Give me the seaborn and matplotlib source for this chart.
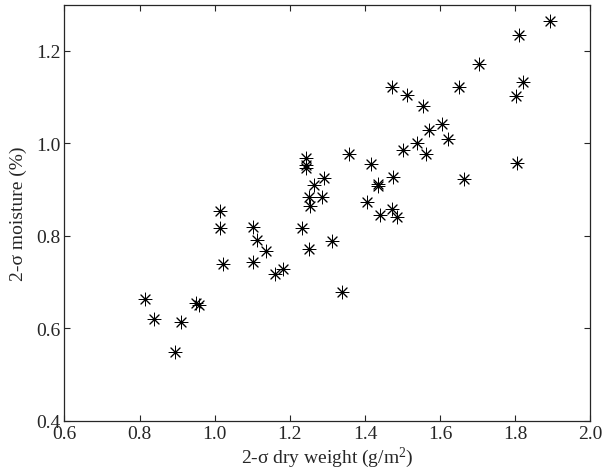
import numpy as np
import pandas as pd
import matplotlib
matplotlib.use("Agg")
import matplotlib.pyplot as plt
import seaborn as sns

# 2-sigma values
dry_weight = [0.814, 0.839, 0.894, 0.909, 0.950, 0.959, 1.013, 1.015, 1.021,
              1.101, 1.101, 1.112, 1.137, 1.159, 1.181, 1.233, 1.242, 1.242,
              1.242, 1.251, 1.251, 1.254, 1.263, 1.286, 1.291, 1.313, 1.338,
              1.357, 1.405, 1.417, 1.434, 1.434, 1.439, 1.472, 1.473, 1.474,
              1.485, 1.501, 1.511, 1.537, 1.555, 1.561, 1.571, 1.605, 1.620,
              1.651, 1.663, 1.703, 1.803, 1.804, 1.810, 1.820, 1.892]
moisture = [0.663, 0.621, 0.549, 0.614, 0.655, 0.650, 0.817, 0.853, 0.739,
            0.819, 0.744, 0.790, 0.767, 0.717, 0.728, 0.817, 0.969, 0.954,
            0.946, 0.883, 0.772, 0.864, 0.911, 0.883, 0.925, 0.788, 0.679,
            0.978, 0.874, 0.955, 0.913, 0.907, 0.846, 1.123, 0.857, 0.927,
            0.841, 0.986, 1.105, 1.000, 1.080, 0.977, 1.029, 1.042, 1.009,
            1.123, 0.922, 1.171, 1.102, 0.958, 1.235, 1.133, 1.265]

x_ticks = [0.6, 0.8, 1.0, 1.2, 1.4, 1.6, 1.8, 2.0]
y_ticks = [0.4, 0.6, 0.8, 1.0, 1.2]

df = pd.DataFrame({"dry": dry_weight, "moist": moisture})

sns.set_style("ticks")
plt.rcParams["font.family"] = ["Liberation Serif", "DejaVu Serif"]
plt.rcParams["mathtext.fontset"] = "custom"
plt.rcParams["mathtext.rm"] = "Liberation Serif"
plt.rcParams["mathtext.it"] = "Liberation Serif"

fig = plt.figure(figsize=(6.05, 4.77), dpi=100)
ax = fig.add_axes([0.1066, 0.116, 0.8694, 0.872])

sns.scatterplot(data=df, x="dry", y="moist", marker=(8, 2, 0), color="black",
                s=85, linewidth=0.7, ax=ax)

ax.set_xlim(0.6, 2.0)
ax.set_ylim(0.4, 1.3)
ax.set_xticks(x_ticks)
ax.set_yticks(y_ticks)
ax.set_xticklabels([f"{t:.1f}" for t in x_ticks])
ax.set_yticklabels([f"{t:.1f}" for t in y_ticks])
ax.tick_params(direction="in", length=4, width=0.8, labelsize=14,
               top=True, right=True, pad=3)
for sp in ax.spines.values():
    sp.set_linewidth(0.9)
    sp.set_visible(True)

ax.set_xlabel("2-σ dry weight (g/m$^2$)", fontsize=14, labelpad=2)
ax.set_ylabel("2-σ moisture (%)", fontsize=14, labelpad=6)

fig.savefig("out.png", dpi=100)
